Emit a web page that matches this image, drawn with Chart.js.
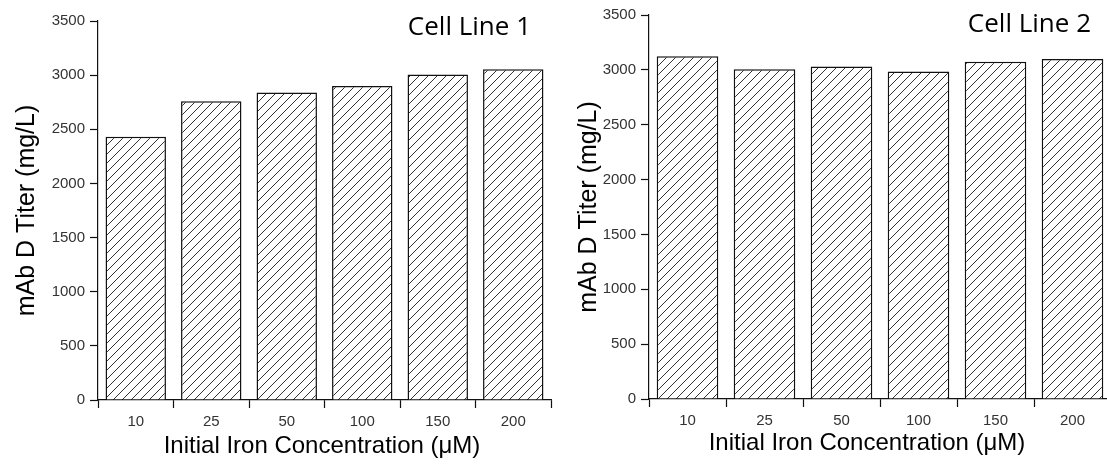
<!DOCTYPE html>
<html>
<head>
<meta charset="utf-8">
<title>mAb D Titer vs Initial Iron Concentration</title>
<script src="https://cdn.jsdelivr.net/npm/chart.js@4.4.1/dist/chart.umd.min.js"></script>
<style>
    html, body { margin: 0; padding: 0; background: #ffffff; overflow: hidden; }
    body { width: 1107px; height: 464px; position: relative; }
    canvas { position: absolute; top: 0; }
    #chart-line1 { left: 0; }
    #chart-line2 { left: 553px; }
</style>
</head>
<body>
<canvas id="chart-line1" width="553" height="464"></canvas>
<canvas id="chart-line2" width="560" height="464"></canvas>
<script>
var ironLevels = ['10', '25', '50', '100', '150', '200'];
var titerLine1 = [2430, 2760, 2840, 2900, 3005, 3055];
var titerLine2 = [3125, 3005, 3030, 2985, 3075, 3100];
var yTicks = [0, 500, 1000, 1500, 2000, 2500, 3000, 3500];

var yTitle = 'mAb D Titer (mg/L)';
var xTitle = 'Initial Iron Concentration (\u03bcM)';

var AXIS_FONT = 'Liberation Sans, Arial, sans-serif';

function makeHatch() {
    var size = 9;
    var c = document.createElement('canvas');
    c.width = size;
    c.height = size;
    var ctx = c.getContext('2d');
    ctx.fillStyle = '#ffffff';
    ctx.fillRect(0, 0, size, size);
    ctx.strokeStyle = '#333333';
    ctx.lineWidth = 1;
    ctx.beginPath();
    // "///" hatch, with the corner pieces so tiles join up
    ctx.moveTo(0, size); ctx.lineTo(size, 0);
    ctx.moveTo(-1, 1); ctx.lineTo(1, -1);
    ctx.moveTo(size - 1, size + 1); ctx.lineTo(size + 1, size - 1);
    ctx.stroke();
    return ctx.createPattern(c, 'repeat');
}

// "Cell Line N" in the upper right corner, x-axis caption under the ticks
var captions = {
    id: 'captions',
    afterDraw: function (chart, args, opts) {
        var ctx = chart.ctx;
        var area = chart.chartArea;
        ctx.save();
        ctx.fillStyle = '#000000';
        ctx.font = '26px "Open Sans", sans-serif';
        ctx.textAlign = 'right';
        ctx.textBaseline = 'alphabetic';
        ctx.fillText(opts.text, area.right - 20, area.top + opts.labelBase);

        ctx.font = '24px ' + AXIS_FONT;
        ctx.textAlign = 'center';
        ctx.fillText(xTitle, area.left + opts.xTitleShift, chart.height - opts.xTitleBottom);
        ctx.restore();
    }
};

function drawChart(id, values, label, geom) {
    var canvas = document.getElementById(id);
    return new Chart(canvas, {
        type: 'bar',
        data: {
            labels: ironLevels,
            datasets: [{
                data: values,
                backgroundColor: makeHatch(),
                borderColor: '#111111',
                borderWidth: 1.5,
                barPercentage: 0.8,
                categoryPercentage: 1.0
            }]
        },
        plugins: [captions],
        options: {
            responsive: false,
            devicePixelRatio: 1,
            animation: false,
            layout: {
                padding: { left: 0, right: geom.right, top: geom.top, bottom: 0 }
            },
            plugins: {
                legend: { display: false },
                tooltip: { enabled: false },
                captions: {
                    text: label,
                    labelBase: geom.labelBase,
                    xTitleShift: geom.xTitleShift,
                    xTitleBottom: geom.xTitleBottom
                }
            },
            scales: {
                x: {
                    offset: true,
                    border: { display: true, color: '#111111', width: 1.2 },
                    grid: {
                        offset: true,
                        drawOnChartArea: false,
                        drawTicks: true,
                        tickLength: 8,
                        tickWidth: 1.2,
                        tickColor: '#111111'
                    },
                    ticks: {
                        color: '#333333',
                        font: { family: AXIS_FONT, size: 15 },
                        padding: 5,
                        maxRotation: 0
                    },
                    afterFit: function (s) { s.height = geom.xHeight; }
                },
                y: {
                    min: 0,
                    max: 3500,
                    afterBuildTicks: function (s) {
                        s.ticks = yTicks.map(function (v) { return { value: v }; });
                    },
                    border: { display: true, color: '#111111', width: 1.2 },
                    grid: {
                        drawOnChartArea: false,
                        drawTicks: true,
                        tickLength: 8,
                        tickWidth: 1.2,
                        tickColor: '#111111'
                    },
                    ticks: {
                        color: '#333333',
                        font: { family: AXIS_FONT, size: 15 },
                        padding: 5,
                        callback: function (v) { return String(v); }
                    },
                    title: {
                        display: true,
                        text: yTitle,
                        color: '#000000',
                        font: { family: AXIS_FONT, size: 25 },
                        padding: { top: geom.yTitlePad, bottom: 0 }
                    },
                    afterFit: function (s) { s.width = geom.yWidth; }
                }
            }
        }
    });
}

drawChart('chart-line1', titerLine1, 'Cell Line 1', {
    top: 21, right: 2, yWidth: 98, xHeight: 64,
    yTitlePad: 12, labelBase: 14, xTitleShift: 224, xTitleBottom: 11
});
drawChart('chart-line2', titerLine2, 'Cell Line 2', {
    top: 15, right: 2, yWidth: 96, xHeight: 65,
    yTitlePad: 21, labelBase: 17, xTitleShift: 218, xTitleBottom: 14
});
</script>
</body>
</html>
